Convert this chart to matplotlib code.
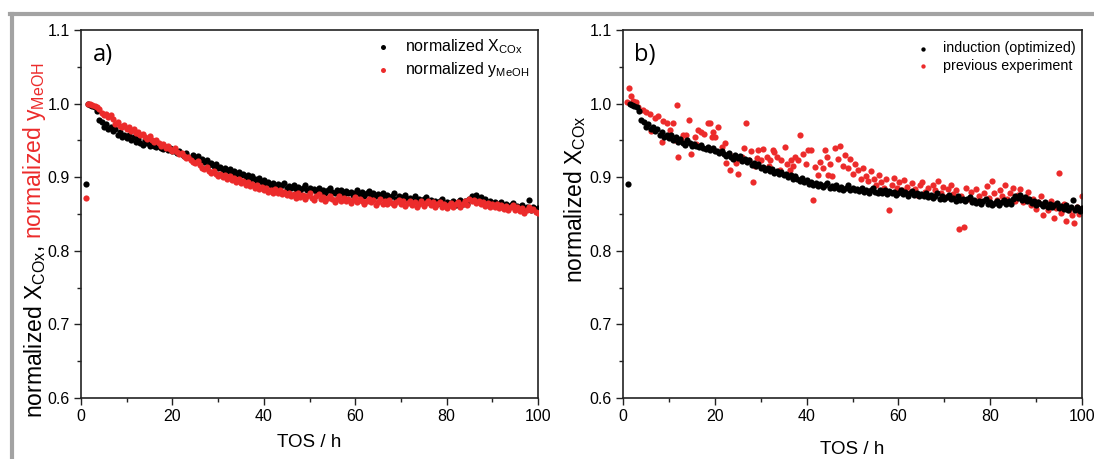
import numpy as np
import matplotlib
matplotlib.use('Agg')
import matplotlib.pyplot as plt
from matplotlib.lines import Line2D
from matplotlib.ticker import MultipleLocator, FormatStrFormatter

plt.rcParams['font.family'] = ['Liberation Sans', 'DejaVu Sans']
plt.rcParams['mathtext.fontset'] = 'custom'
plt.rcParams['mathtext.rm'] = 'Liberation Sans'
plt.rcParams['mathtext.it'] = 'Liberation Sans:italic'

RED = '#ec2b2b'
BLACK = '#000000'

# TOS sampling of the induction run, every 0.5 h from 1 h
tos = np.arange(1.0, 100.01, 0.5)

# normalized X_COx (induction, optimized) - same run in a) and b)
x_cox = [
    0.891, 1.000, 0.998, 0.997, 0.995, 0.990, 0.978, 0.975, 0.968, 0.972,
    0.966, 0.968, 0.963, 0.966, 0.958, 0.961, 0.955, 0.958, 0.953, 0.957,
    0.951, 0.955, 0.948, 0.952, 0.946, 0.944, 0.950, 0.947, 0.942, 0.945,
    0.943, 0.941, 0.944, 0.940, 0.938, 0.941, 0.937, 0.939, 0.935, 0.936,
    0.933, 0.936, 0.931, 0.929, 0.933, 0.928, 0.925, 0.930, 0.926, 0.929,
    0.922, 0.925, 0.920, 0.923, 0.917, 0.919, 0.915, 0.918, 0.912, 0.914,
    0.910, 0.913, 0.909, 0.911, 0.906, 0.909, 0.904, 0.907, 0.903, 0.905,
    0.900, 0.903, 0.898, 0.901, 0.897, 0.895, 0.899, 0.893, 0.896, 0.891,
    0.894, 0.890, 0.892, 0.888, 0.891, 0.887, 0.889, 0.892, 0.886, 0.888,
    0.885, 0.889, 0.884, 0.887, 0.882, 0.885, 0.889, 0.883, 0.886, 0.882,
    0.884, 0.881, 0.885, 0.880, 0.883, 0.879, 0.882, 0.885, 0.880, 0.878,
    0.882, 0.879, 0.883, 0.877, 0.881, 0.878, 0.880, 0.876, 0.879, 0.882,
    0.877, 0.880, 0.875, 0.878, 0.881, 0.876, 0.879, 0.874, 0.877, 0.875,
    0.879, 0.873, 0.876, 0.872, 0.875, 0.878, 0.871, 0.874, 0.870, 0.873,
    0.876, 0.870, 0.872, 0.868, 0.874, 0.869, 0.871, 0.867, 0.870, 0.873,
    0.866, 0.869, 0.865, 0.868, 0.864, 0.867, 0.870, 0.863, 0.866, 0.862,
    0.865, 0.868, 0.862, 0.866, 0.869, 0.864, 0.867, 0.863, 0.870, 0.875,
    0.872, 0.876, 0.869, 0.873, 0.867, 0.870, 0.865, 0.868, 0.862, 0.866,
    0.864, 0.861, 0.866, 0.860, 0.863, 0.859, 0.862, 0.865, 0.858, 0.861,
    0.857, 0.862, 0.855, 0.859, 0.869, 0.856, 0.860, 0.854, 0.858,
]

# normalized y_MeOH (induction, optimized)
y_meoh = [
    0.872, 1.000, 1.000, 0.998, 0.997, 0.995, 0.992, 0.987, 0.984, 0.986,
    0.982, 0.985, 0.979, 0.972, 0.975, 0.970, 0.968, 0.971, 0.966, 0.968,
    0.963, 0.966, 0.960, 0.962, 0.957, 0.959, 0.955, 0.952, 0.956, 0.950,
    0.948, 0.951, 0.946, 0.943, 0.945, 0.940, 0.942, 0.938, 0.936, 0.939,
    0.934, 0.931, 0.933, 0.929, 0.926, 0.928, 0.924, 0.921, 0.919, 0.922,
    0.916, 0.913, 0.911, 0.914, 0.908, 0.906, 0.909, 0.904, 0.902, 0.905,
    0.900, 0.903, 0.898, 0.901, 0.896, 0.899, 0.894, 0.897, 0.892, 0.895,
    0.890, 0.893, 0.888, 0.891, 0.886, 0.889, 0.884, 0.887, 0.882, 0.885,
    0.880, 0.883, 0.878, 0.884, 0.879, 0.882, 0.877, 0.880, 0.876, 0.879,
    0.874, 0.877, 0.872, 0.878, 0.873, 0.876, 0.871, 0.875, 0.878, 0.872,
    0.869, 0.874, 0.877, 0.871, 0.873, 0.868, 0.872, 0.875, 0.870, 0.866,
    0.871, 0.874, 0.868, 0.872, 0.867, 0.870, 0.865, 0.869, 0.873, 0.866,
    0.870, 0.867, 0.864, 0.868, 0.871, 0.866, 0.869, 0.862, 0.866, 0.870,
    0.864, 0.867, 0.863, 0.869, 0.865, 0.862, 0.866, 0.869, 0.863, 0.867,
    0.861, 0.865, 0.868, 0.862, 0.866, 0.860, 0.864, 0.867, 0.861, 0.865,
    0.868, 0.862, 0.866, 0.859, 0.863, 0.866, 0.860, 0.864, 0.858, 0.862,
    0.865, 0.859, 0.863, 0.866, 0.860, 0.864, 0.868, 0.862, 0.871, 0.867,
    0.869, 0.865, 0.868, 0.863, 0.866, 0.861, 0.865, 0.859, 0.863, 0.860,
    0.864, 0.858, 0.862, 0.857, 0.861, 0.855, 0.859, 0.862, 0.856, 0.860,
    0.854, 0.858, 0.852, 0.856, 0.860, 0.855, 0.857, 0.853, 0.851,
]

# previous experiment, normalized X_COx (irregular sampling)
prev_tos = [
    0.95, 1.3, 1.8, 2.2, 2.9, 3.3, 4.4, 5.1, 5.8, 6.2,
    6.9, 7.6, 8.4, 8.7, 9.5, 10.2, 10.9, 11.3, 11.8, 12.0,
    12.6, 13.1, 13.8, 14.3, 14.9, 15.6, 16.0, 16.4, 17.1, 17.7,
    18.5, 18.9, 19.3, 19.7, 20.0, 20.7, 21.5, 22.2, 22.5, 23.0,
    23.3, 24.0, 24.7, 25.1, 25.8, 26.0, 26.3, 26.9, 27.4, 27.9,
    28.4, 28.8, 29.1, 29.5, 30.0, 30.5, 31.3, 31.8, 32.0, 32.7,
    33.0, 33.5, 34.2, 34.5, 35.3, 35.8, 36.4, 36.7, 37.0, 37.5,
    38.2, 38.5, 39.3, 39.8, 40.4, 40.9, 41.3, 41.8, 42.5, 43.0,
    43.5, 44.0, 44.4, 44.7, 45.0, 45.5, 46.2, 46.8, 47.3, 47.9,
    48.4, 49.0, 49.5, 50.1, 50.6, 51.2, 51.8, 52.3, 52.9, 53.4,
    54.0, 54.6, 55.1, 55.7, 56.3, 56.8, 57.4, 57.9, 58.5, 59.1,
    59.6, 60.2, 60.8, 61.3, 61.9, 62.4, 63.0, 63.6, 64.1, 64.7,
    65.2, 65.8, 66.4, 66.9, 67.5, 68.0, 68.6, 69.2, 69.7, 70.3,
    70.9, 71.4, 72.0, 72.5, 73.1, 73.7, 74.2, 74.8, 75.3, 75.9,
    76.5, 77.0, 77.6, 78.1, 78.7, 79.3, 79.8, 80.4, 80.9, 81.5,
    82.1, 82.6, 83.2, 83.7, 84.3, 84.9, 85.4, 86.0, 86.5, 87.1,
    87.7, 88.2, 88.8, 89.3, 89.9, 90.5, 91.0, 91.6, 92.2, 92.7,
    93.3, 93.8, 94.4, 95.0, 95.5, 96.1, 96.6, 97.2, 97.8, 98.3,
    98.9, 99.4, 99.9,
]
prev_x = [
    1.002, 1.021, 1.011, 1.003, 1.002, 0.995, 0.991, 0.989, 0.986, 0.963,
    0.981, 0.983, 0.948, 0.977, 0.973, 0.964, 0.973, 0.950, 0.998, 0.928,
    0.952, 0.957, 0.957, 0.978, 0.932, 0.955, 0.945, 0.964, 0.962, 0.959,
    0.973, 0.973, 0.955, 0.962, 0.955, 0.968, 0.941, 0.946, 0.919, 0.932,
    0.910, 0.928, 0.919, 0.905, 0.923, 0.928, 0.939, 0.974, 0.923, 0.935,
    0.893, 0.915, 0.926, 0.937, 0.923, 0.938, 0.928, 0.915, 0.923, 0.937,
    0.934, 0.928, 0.910, 0.923, 0.941, 0.918, 0.910, 0.923, 0.915, 0.928,
    0.923, 0.957, 0.932, 0.918, 0.937, 0.937, 0.869, 0.914, 0.903, 0.920,
    0.912, 0.937, 0.928, 0.903, 0.918, 0.901, 0.939, 0.925, 0.942, 0.915,
    0.930, 0.912, 0.925, 0.905, 0.918, 0.910, 0.898, 0.912, 0.902, 0.895,
    0.908, 0.898, 0.890, 0.903, 0.893, 0.886, 0.897, 0.855, 0.890, 0.899,
    0.885, 0.893, 0.882, 0.896, 0.887, 0.878, 0.892, 0.884, 0.876, 0.889,
    0.893, 0.880, 0.886, 0.874, 0.890, 0.882, 0.895, 0.879, 0.887, 0.873,
    0.884, 0.890, 0.877, 0.882, 0.830, 0.875, 0.833, 0.885, 0.871, 0.880,
    0.868, 0.884, 0.874, 0.866, 0.879, 0.888, 0.872, 0.895, 0.878, 0.869,
    0.883, 0.874, 0.890, 0.870, 0.879, 0.886, 0.868, 0.876, 0.884, 0.866,
    0.873, 0.880, 0.862, 0.871, 0.857, 0.866, 0.874, 0.848, 0.862, 0.855,
    0.868, 0.845, 0.858, 0.906, 0.852, 0.863, 0.840, 0.855, 0.848, 0.838,
    0.860, 0.850, 0.875,
]

W, H = 1094, 459
fig = plt.figure(figsize=(W / 100, H / 100), dpi=100)
ax_a = fig.add_axes([81 / W, 1 - 398 / H, 457 / W, 368 / H])
ax_b = fig.add_axes([623 / W, 1 - 398 / H, 459 / W, 368 / H])

def style(ax):
    ax.set_xlim(0, 100)
    ax.set_ylim(0.6, 1.1)
    ax.xaxis.set_major_locator(MultipleLocator(20))
    ax.xaxis.set_minor_locator(MultipleLocator(10))
    ax.yaxis.set_major_locator(MultipleLocator(0.1))
    ax.yaxis.set_minor_locator(MultipleLocator(0.05))
    ax.yaxis.set_major_formatter(FormatStrFormatter('%.1f'))
    ax.tick_params(which='both', direction='out', labelsize=11.5, width=1.0, color='#222222')
    ax.tick_params(which='major', length=5, pad=3)
    ax.tick_params(which='minor', length=3)
    for s in ax.spines.values():
        s.set_linewidth(1.2)
        s.set_color('#222222')

ms = 20
YFS = 16.5
ax_a.scatter(tos, x_cox, s=ms, c=BLACK, lw=0, zorder=3, label=r'normalized X$_\mathregular{COx}$')
ax_a.scatter(tos, y_meoh, s=ms, c=RED, lw=0, zorder=4, label=r'normalized y$_\mathregular{MeOH}$')
style(ax_a)
ax_a.set_xlabel('TOS / h', fontsize=13.5, labelpad=7)
ax_a.legend(loc='upper right', bbox_to_anchor=(1.005, 1.01), frameon=False, fontsize=11.5,
            handletextpad=0.75, handlelength=1.2, labelspacing=0.25, borderaxespad=0.3,
            markerscale=0.8)
ax_a.text(0.025, 0.965, 'a)', transform=ax_a.transAxes, fontsize=17,
          family=['Open Sans', 'DejaVu Sans'], va='top', ha='left')

ax_b.scatter(tos, x_cox, s=ms, c=BLACK, lw=0, zorder=3, label='induction (optimized)')
ax_b.scatter(prev_tos, prev_x, s=ms, c=RED, lw=0, zorder=2, label='previous experiment')
style(ax_b)
ax_b.set_xlabel('TOS / h', fontsize=13.5, labelpad=12)
ax_b.legend(loc='upper right', bbox_to_anchor=(1.012, 1.0), frameon=False, fontsize=10.3,
            handletextpad=0.8, handlelength=1.2, labelspacing=0.25, borderaxespad=0.4,
            markerscale=0.7)
ax_b.text(0.025, 0.965, 'b)', transform=ax_b.transAxes, fontsize=17,
          family=['Open Sans', 'DejaVu Sans'], va='top', ha='left')
ax_b.text(-48 / 459, (398 - 283) / 368, r'normalized X$_\mathregular{COx}$', transform=ax_b.transAxes,
          rotation=90, ha='center', va='bottom', fontsize=YFS)

# two-colour y label for panel a)
lab1 = ax_a.text(-46 / 457, -20 / 368, r'normalized X$_\mathregular{COx}$,', transform=ax_a.transAxes,
                 rotation=90, ha='center', va='bottom', fontsize=YFS, color=BLACK)
fig.canvas.draw()
bb = lab1.get_window_extent(fig.canvas.get_renderer())
x0, y0 = ax_a.transAxes.inverted().transform((0, bb.y1 + 6))
ax_a.text(-46 / 457, y0, r'normalized y$_\mathregular{MeOH}$', transform=ax_a.transAxes,
          rotation=90, ha='center', va='bottom', fontsize=YFS, color=RED)

# grey frame of the source figure
fig.add_artist(Line2D([10 / W, 1], [1 - 14 / H, 1 - 14 / H], color='#a3a3a3', lw=3,
                      transform=fig.transFigure))
fig.add_artist(Line2D([12 / W, 12 / W], [0, 1 - 14 / H], color='#a3a3a3', lw=3,
                      transform=fig.transFigure))

fig.savefig('out.png', dpi=100)
